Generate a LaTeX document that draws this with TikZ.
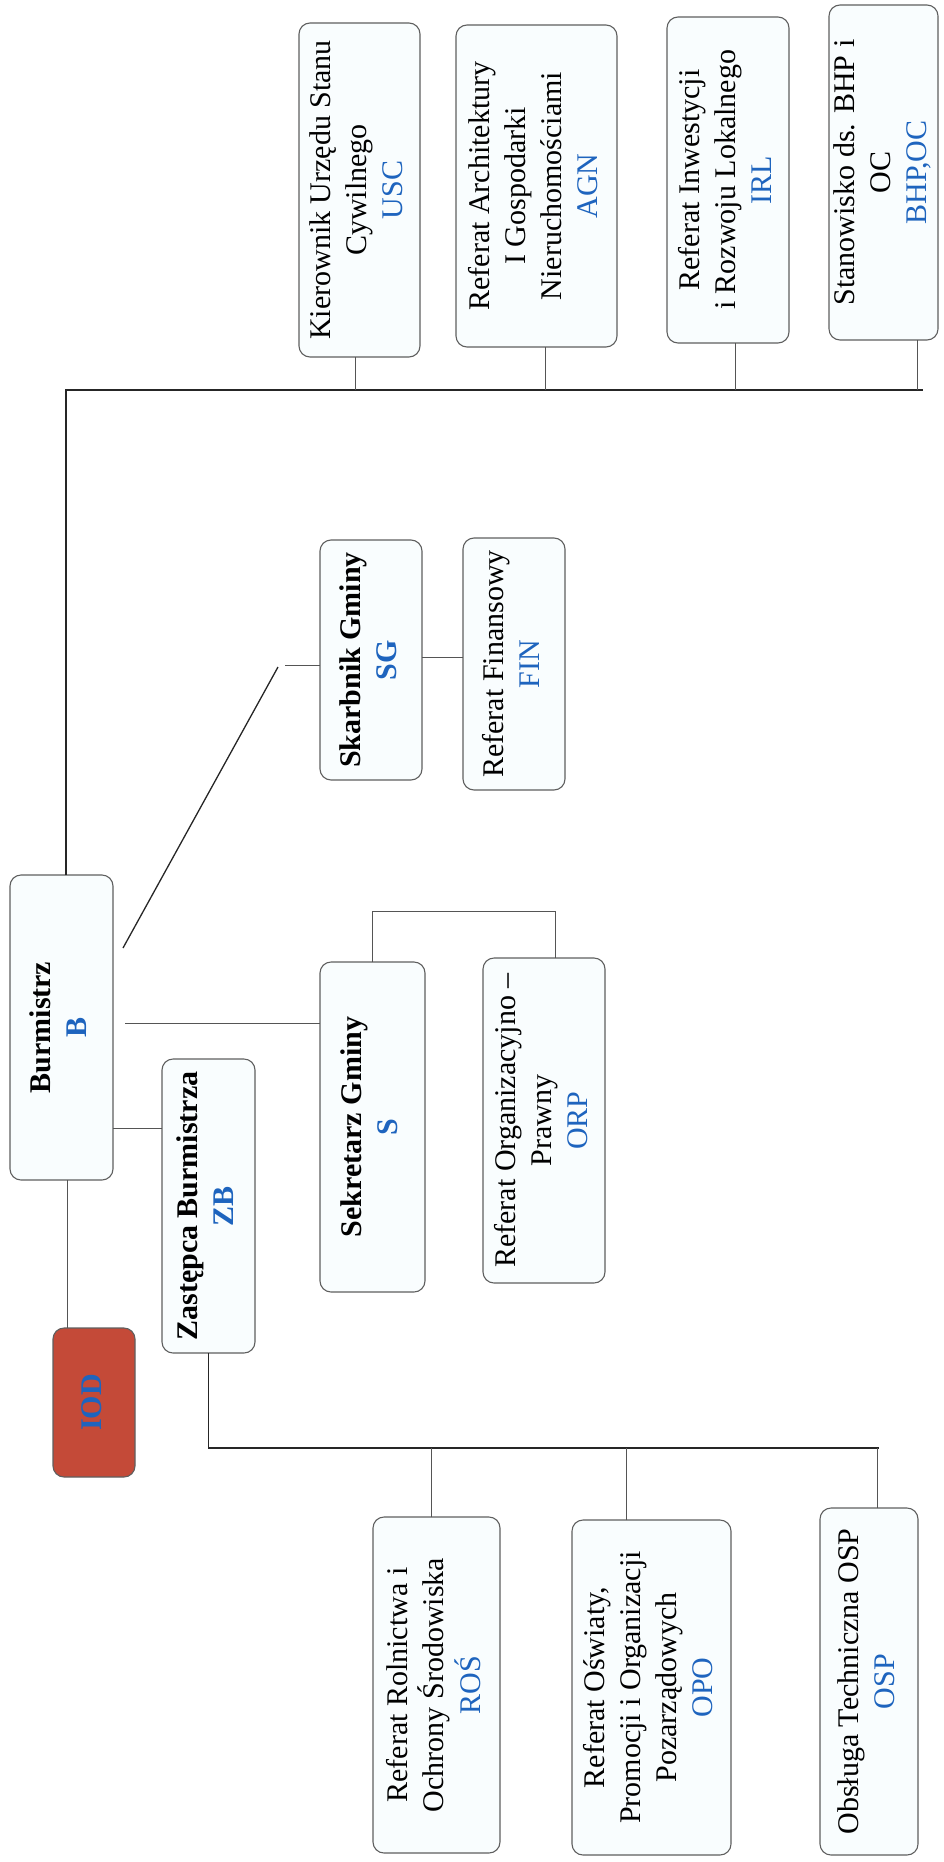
\documentclass[tikz,border=0pt]{standalone}
\usepackage{fontspec}
\setmainfont{Liberation Serif}
\usepackage{graphicx}
\definecolor{codeblue}{RGB}{30,100,190}
\definecolor{boxfill}{RGB}{249,253,254}
\definecolor{iodred}{RGB}{196,74,56}
\definecolor{edgegray}{RGB}{95,95,95}
\definecolor{linegray}{RGB}{85,85,85}
\newcommand{\vtext}[1]{\rotatebox{90}{\begin{tabular}{@{}c@{}}#1\end{tabular}}}
\newcommand{\cb}[1]{\textcolor{codeblue}{#1}}
\tikzset{
  orgbox/.style={draw=edgegray, line width=1.1pt, fill=boxfill, rounded corners=11pt,
    inner sep=0pt, outer sep=0pt, font=\fontsize{30}{36}\selectfont},
  redbox/.style={orgbox, fill=iodred},
  conn/.style={draw=linegray, line width=0.9pt},
  trunk/.style={draw=black!85, line width=1.5pt}
}
\begin{document}
\begin{tikzpicture}[x=1pt, y=-1pt]
\useasboundingbox (0,0) rectangle (944,1862);

% main boxes
\node[orgbox, minimum width=103pt, minimum height=305pt] (B) at (61.5,1027.5)
  {\vtext{\textbf{Burmistrz}\\\cb{\textbf{B}}}};
\node[redbox, minimum width=82pt, minimum height=149pt] (IOD) at (94,1402.5)
  {\vtext{\cb{\textbf{IOD}}}};
\node[orgbox, minimum width=93pt, minimum height=294pt] (ZB) at (208.5,1206)
  {\vtext{\textbf{Zastępca Burmistrza}\\\cb{\textbf{ZB}}}};
\node[orgbox, minimum width=105pt, minimum height=330pt] (S) at (372.5,1127)
  {\vtext{\textbf{Sekretarz Gminy}\\\cb{\textbf{S}}}};
\node[orgbox, minimum width=122pt, minimum height=325pt] (ORP) at (544,1120.5)
  {\vtext{Referat Organizacyjno –\\Prawny\\\cb{ORP}}};
\node[orgbox, minimum width=102pt, minimum height=240pt] (SG) at (371,660)
  {\vtext{\textbf{Skarbnik Gminy}\\\cb{\textbf{SG}}}};
\node[orgbox, minimum width=102pt, minimum height=252pt] (FIN) at (514,664)
  {\vtext{Referat Finansowy\\\cb{FIN}}};

% top group
\node[orgbox, minimum width=121pt, minimum height=334pt] (USC) at (359.5,190)
  {\vtext{Kierownik Urzędu Stanu\\Cywilnego\\\cb{USC}}};
\node[orgbox, minimum width=161pt, minimum height=322pt] (AGN) at (536.5,186)
  {\vtext{Referat Architektury\\I Gospodarki\\Nieruchomościami\\\cb{AGN}}};
\node[orgbox, minimum width=122pt, minimum height=326pt] (IRL) at (728,180)
  {\vtext{Referat Inwestycji\\i Rozwoju Lokalnego\\\cb{IRL}}};
\node[orgbox, minimum width=109pt, minimum height=335pt] (BHP) at (883.5,172.5)
  {\vtext{Stanowisko ds. BHP i\\OC\\\cb{BHP,OC}}};

% bottom group
\node[orgbox, minimum width=127pt, minimum height=336pt] (ROS) at (436.5,1685)
  {\vtext{Referat Rolnictwa i\\Ochrony Środowiska\\\cb{ROŚ}}};
\node[orgbox, minimum width=159pt, minimum height=335pt] (OPO) at (651.5,1687.5)
  {\vtext{Referat Oświaty,\\Promocji i Organizacji\\Pozarządowych\\\cb{OPO}}};
\node[orgbox, minimum width=98pt, minimum height=347pt] (OSP) at (869,1681.5)
  {\vtext{Obsługa Techniczna OSP\\\cb{OSP}}};

% helper coordinates
\coordinate (busT) at (66,390);
\coordinate (busTend) at (923,390);
\coordinate (hS) at (0,1023);
\coordinate (hZB) at (0,1128);
\coordinate (hDiag) at (0,948);
\coordinate (dTop) at (278,667);
\coordinate (tickA) at (285,665);
\coordinate (hSG) at (0,657);
\coordinate (zbC) at (208.5,1448);
\coordinate (zbEnd) at (879,1448);

% trunk to top group
\draw[trunk] ([xshift=56pt]B.north west) -- (busT) -- (busTend);
\draw[conn] ([xshift=-4.5pt]USC.south) -- ([xshift=-4.5pt]USC.south |- busT);
\draw[conn] ([xshift=8.5pt]AGN.south) -- ([xshift=8.5pt]AGN.south |- busT);
\draw[conn] ([xshift=7pt]IRL.south) -- ([xshift=7pt]IRL.south |- busT);
\draw[conn] ([xshift=33.5pt]BHP.south) -- ([xshift=33.5pt]BHP.south |- busT);

% IOD
\draw[conn] ([xshift=57pt]B.south west) -- ([xshift=57pt]B.south west |- IOD.north);

% Zastepca
\draw[conn] (B.east |- hZB) -- (ZB.west |- hZB);
\draw[trunk] (ZB.south) -- (zbC) -- (zbEnd);
\draw[conn] ([xshift=-5.5pt]ROS.north) -- ([xshift=-5.5pt]ROS.north |- zbC);
\draw[conn] ([xshift=-25.5pt]OPO.north) -- ([xshift=-25.5pt]OPO.north |- zbC);
\draw[conn] ([xshift=8pt]OSP.north) -- ([xshift=8pt]OSP.north |- zbC);

% Sekretarz
\draw[conn] ([xshift=12pt]B.east |- hS) -- (S.west |- hS);
\draw[conn] (S.north) -- ++(0,-51) -| ([xshift=11pt]ORP.north);

% Skarbnik
\draw[trunk, line width=1.3pt] ([xshift=10pt]B.east |- hDiag) -- (dTop);
\draw[conn] (tickA) -- (SG.west |- tickA);
\draw[conn] (SG.east |- hSG) -- (FIN.west |- hSG);
\end{tikzpicture}
\end{document}
